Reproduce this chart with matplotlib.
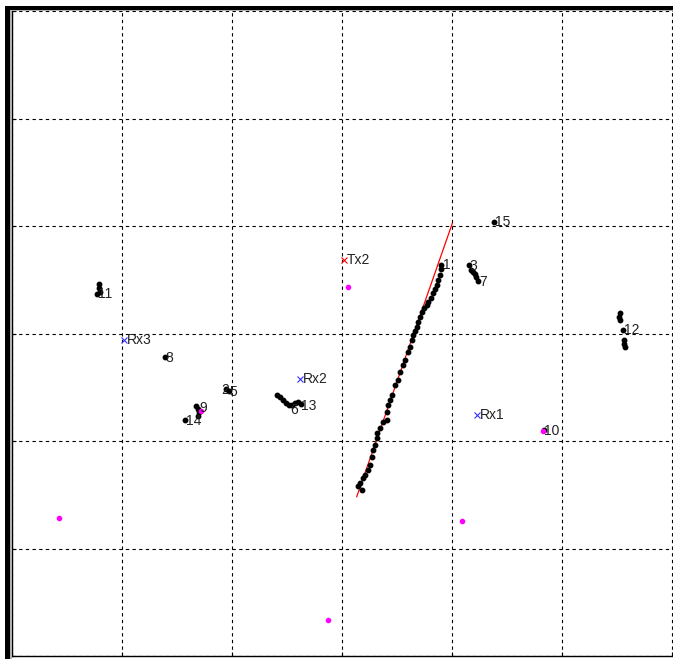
import matplotlib
matplotlib.use("Agg")
import matplotlib.pyplot as plt
from matplotlib.patches import Rectangle

plt.rcParams['font.family'] = ['Liberation Sans', 'DejaVu Sans']

# Tracked positions (m) along the fitted path
track_x = [39.00, 38.97, 38.91, 38.73, 38.61, 38.45, 38.27, 38.09, 37.82, 37.73,
           37.45, 37.27, 37.09, 36.91, 36.82, 36.64, 36.45, 36.36, 36.18, 36.00,
           35.73, 35.55, 35.27, 35.09, 34.82, 34.55, 34.36, 34.18, 34.09, 34.09,
           33.73, 33.45, 33.18, 33.18, 33.00, 32.82, 32.73, 32.55, 32.36, 32.09,
           31.91, 31.64, 31.45, 31.82]
track_y = [36.37, 36.00, 35.44, 34.98, 34.51, 34.14, 33.77, 33.30, 32.93, 32.65,
           32.37, 32.00, 31.53, 31.07, 30.60, 30.23, 29.86, 29.40, 28.74, 28.28,
           27.53, 27.07, 26.42, 25.67, 25.21, 24.28, 23.81, 23.35, 22.70, 21.95,
           21.77, 21.21, 20.74, 20.28, 19.63, 19.16, 18.51, 17.77, 17.30, 16.84,
           16.56, 16.09, 15.81, 15.44]

# Fitted line end points
fit_x = [31.34, 40.03]
fit_y = [14.82, 40.25]

# Other tag positions (m)
tags_x = [43.82,
          41.55, 41.73, 41.91, 42.09, 42.18, 42.36,
          55.27, 55.18, 55.27, 55.55, 55.64, 55.64, 55.73,
          48.36,
          7.91, 7.91, 8.00, 7.73,
          13.91,
          19.45, 19.73,
          16.73, 16.91, 17.00, 16.91, 15.73,
          24.09, 24.36, 24.64, 24.91, 25.18, 25.45, 25.73, 26.00, 26.27]
tags_y = [40.37,
          36.37, 35.91, 35.72, 35.53, 35.26, 34.88,
          31.91, 31.53, 31.26, 30.33, 29.40, 29.02, 28.74,
          21.02,
          34.60, 34.23, 33.86, 33.67,
          27.81,
          24.84, 24.65,
          23.26, 22.98, 22.70, 22.33, 21.95,
          24.28, 24.09, 23.81, 23.53, 23.35, 23.35, 23.53, 23.63, 23.44]

# Tag labels and where they are written
label_text = ['1', '15', '3', '7', '12', '10', '11', '8', '2', '5', '9', '14', '6', '13']
label_x = [39.15, 43.95, 41.55, 42.45, 55.60, 48.40, 7.85, 13.95, 19.05, 19.75,
           17.00, 15.80, 25.30, 26.30]
label_y = [36.40, 40.37, 36.30, 34.80, 30.30, 20.95, 33.65, 27.75, 24.70, 24.55,
           23.10, 21.90, 22.85, 23.30]

# Anchors
tx_name = ['Tx2']
tx_x = [30.18]
tx_y = [36.84]
rx_name = ['Rx1', 'Rx2', 'Rx3']
rx_x = [42.27, 26.18, 10.18]
rx_y = [22.42, 25.77, 29.40]

# Reference points
ref_x = [4.27, 30.55, 17.18, 48.27, 40.91, 28.73]
ref_y = [12.84, 34.33, 22.79, 20.93, 12.56, 3.35]

W, H = 673, 659
fig = plt.figure(figsize=(W / 100, H / 100), dpi=100)
fig.patch.set_facecolor('white')
ax = fig.add_axes([12 / W, 3 / H, (W - 12) / W, (656 - 11) / H])

ax.set_xlim(0, 661 / 11)
ax.set_ylim(0, 60)
ax.set_xticks(range(0, 61, 10))
ax.set_yticks(range(0, 61, 10))
ax.tick_params(direction='in', length=3, width=0.8, labelleft=False,
               labelbottom=False, color='black')
ax.grid(True, color='black', linestyle=(0, (3, 3)), linewidth=0.8)
ax.set_axisbelow(True)
for side in ('top', 'right'):
    ax.spines[side].set_visible(False)
for side in ('left', 'bottom'):
    ax.spines[side].set_linewidth(1.0)

ax.plot(fit_x, fit_y, color='red', linewidth=0.9, zorder=3)
ax.plot(track_x, track_y, 'o', color='black', markersize=3.2, zorder=4)
ax.plot(tags_x, tags_y, 'o', color='black', markersize=3.2, zorder=4)
ax.plot(ref_x, ref_y, 'o', color='magenta', markersize=3.0, zorder=5)

ax.plot(tx_x, tx_y, 'x', color='red', markersize=4, markeredgewidth=0.8, zorder=5)
ax.plot(rx_x, rx_y, 'x', color='#3333ff', markersize=4, markeredgewidth=0.8, zorder=5)

txt_kw = dict(fontsize=10, color='#222222', va='center', ha='left', zorder=6)
for t, x, y in zip(label_text, label_x, label_y):
    ax.text(x, y, t, **txt_kw)
for t, x, y in zip(tx_name + rx_name, tx_x + rx_x, tx_y + rx_y):
    ax.text(x + 0.25, y, t, **txt_kw)

# Window frame
def px_rect(x0, y0, x1, y1, color):
    fig.add_artist(Rectangle((x0 / W, 1 - y1 / H), (x1 - x0) / W, (y1 - y0) / H,
                             transform=fig.transFigure, facecolor=color,
                             edgecolor='none', zorder=10))

px_rect(5, 6, 10, H, 'black')
px_rect(5, 6, W, 10, 'black')
px_rect(10, 10, 11.7, H, '#b0b0b0')
px_rect(10, 10, W, 11, '#b0b0b0')

fig.savefig('out.png', dpi=100)
